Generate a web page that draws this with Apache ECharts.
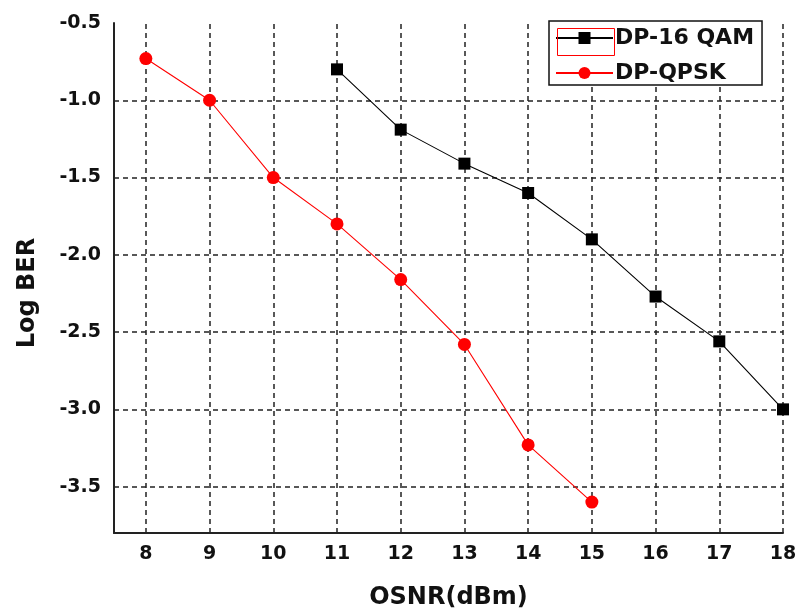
<!DOCTYPE html>
<html>
<head>
<meta charset="utf-8">
<title>Log BER vs OSNR</title>
<script src="https://cdn.jsdelivr.net/npm/echarts@6/dist/echarts.min.js"></script>
<style>
  html, body { margin: 0; padding: 0; background: #fff; }
  #chart { width: 801px; height: 615px; }
</style>
</head>
<body>
<div id="chart"></div>
<script>
// OSNR sweep points (dBm)
const osnr16qam = [11, 12, 13, 14, 15, 16, 17, 18];
const ber16qam = [-0.80, -1.19, -1.41, -1.60, -1.90, -2.27, -2.56, -3.00];

const osnrQpsk = [8, 9, 10, 11, 12, 13, 14, 15];
const berQpsk = [-0.73, -1.00, -1.50, -1.80, -2.16, -2.58, -3.23, -3.60];

// Grid positions
const xGridTicks = [8, 9, 10, 11, 12, 13, 14, 15, 16, 17, 18];
const yGridTicks = [-3.5, -3.0, -2.5, -2.0, -1.5, -1.0];

const seriesNames = ['DP-16 QAM', 'DP-QPSK'];

const FONT = '"DejaVu Sans", "Liberation Sans", Arial, sans-serif';
const gridDash = { color: '#222', width: 1.5, type: [5, 4] };

const chart = echarts.init(document.getElementById('chart'), null, { renderer: 'canvas' });

const gridLines = xGridTicks.map(v => ({ xAxis: v }))
  .concat(yGridTicks.map(v => ({ yAxis: v })));

chart.setOption({
  animation: false,
  backgroundColor: '#fff',
  grid: { left: 114, right: 18, top: 23, bottom: 82, containLabel: false },
  legend: {
    data: seriesNames,
    orient: 'vertical',
    left: 549,
    top: 21,
    padding: [6, 8, 1, 6],
    itemGap: 13,
    itemWidth: 57,
    itemHeight: 15,
    borderColor: '#111',
    borderWidth: 1.5,
    backgroundColor: '#fff',
    textStyle: { fontFamily: FONT, fontWeight: 'bold', fontSize: 22, color: '#111', padding: [0, 0, 0, -3] }
  },
  xAxis: {
    type: 'value',
    min: 7.5,
    max: 18,
    interval: 0.5,
    name: 'OSNR(dBm)',
    nameLocation: 'middle',
    nameGap: 53,
    nameTextStyle: { fontFamily: FONT, fontWeight: 'bold', fontSize: 24, color: '#111' },
    axisLine: { show: true, lineStyle: { color: '#222', width: 2 } },
    axisTick: { show: false },
    splitLine: { show: false },
    axisLabel: {
      margin: 12,
      fontFamily: FONT, fontWeight: 'bold', fontSize: 19, color: '#111',
      showMinLabel: true, showMaxLabel: true,
      formatter: v => Math.abs(v - Math.round(v)) < 1e-6 ? String(Math.round(v)) : ''
    }
  },
  yAxis: {
    type: 'value',
    min: -3.8,
    max: -0.5,
    interval: 0.1,
    name: 'Log BER',
    nameLocation: 'middle',
    nameGap: 74,
    nameRotate: 90,
    nameTextStyle: { fontFamily: FONT, fontWeight: 'bold', fontSize: 24, color: '#111', padding: [0, 0, 0, -30] },
    axisLine: { show: true, lineStyle: { color: '#222', width: 2 } },
    axisTick: { show: false },
    splitLine: { show: false },
    axisLabel: {
      margin: 13,
      fontFamily: FONT, fontWeight: 'bold', fontSize: 19, color: '#111',
      formatter: v => Math.abs(v * 2 - Math.round(v * 2)) < 1e-6 ? v.toFixed(1) : ''
    }
  },
  series: [
    {
      name: 'DP-16 QAM',
      type: 'line',
      data: osnr16qam.map((x, i) => [x, ber16qam[i]]),
      symbol: 'rect',
      symbolSize: 12,
      itemStyle: { color: '#000' },
      lineStyle: { color: '#000', width: 1.1 },
      z: 3,
      markLine: {
        silent: true,
        symbol: ['none', 'none'],
        label: { show: false },
        lineStyle: gridDash,
        emphasis: { disabled: true },
        data: gridLines,
        z: 1
      }
    },
    {
      name: 'DP-QPSK',
      type: 'line',
      data: osnrQpsk.map((x, i) => [x, berQpsk[i]]),
      symbol: 'circle',
      symbolSize: 13,
      itemStyle: { color: '#ff0000' },
      lineStyle: { color: '#ff0000', width: 1.1 },
      z: 4
    }
  ],
  graphic: [
    {
      type: 'rect',
      left: 555, top: 26,
      shape: { width: 57, height: 27 },
      style: { fill: 'none', stroke: '#ff0000', lineWidth: 1 },
      z: 100
    }
  ]
});
</script>
</body>
</html>
